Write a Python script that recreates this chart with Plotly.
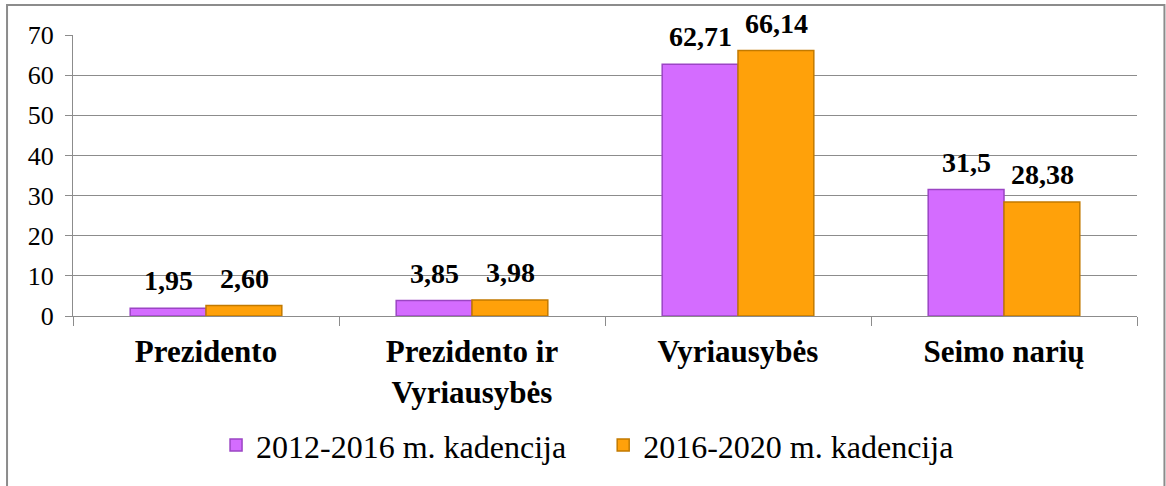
import plotly.graph_objects as go

categories = ["Prezidento", "Prezidento ir<br>Vyriausybės", "Vyriausybės", "Seimo narių"]
series_names = ["2012-2016 m. kadencija", "2016-2020 m. kadencija"]
values_2012 = [1.95, 3.85, 62.71, 31.5]
values_2016 = [2.60, 3.98, 66.14, 28.38]
labels_2012 = ["1,95", "3,85", "62,71", "31,5"]
labels_2016 = ["2,60", "3,98", "66,14", "28,38"]
y_ticks = [0, 10, 20, 30, 40, 50, 60, 70]

FONT = "Liberation Serif"
GRID = "#8c8c8c"
PAD = "\u00a0" * 4

fig = go.Figure()
fig.add_trace(go.Bar(
    x=categories, y=values_2012, name=series_names[0] + PAD,
    marker=dict(color="#D46CFF", line=dict(color="#9B45C4", width=1.5)),
))
fig.add_trace(go.Bar(
    x=categories, y=values_2016, name=series_names[1],
    marker=dict(color="#FFA10A", line=dict(color="#C27A00", width=1.5)),
))

annotations = []
for cat, v, t in zip(categories, values_2012, labels_2012):
    annotations.append(dict(x=cat, y=v, text=t, xref="x", yref="y", showarrow=False,
                            xshift=-38, yanchor="bottom", yshift=10,
                            font=dict(family=FONT, size=28, color="black", weight="bold")))
for cat, v, t in zip(categories, values_2016, labels_2016):
    annotations.append(dict(x=cat, y=v, text=t, xref="x", yref="y", showarrow=False,
                            xshift=38, yanchor="bottom", yshift=10,
                            font=dict(family=FONT, size=28, color="black", weight="bold")))

fig.update_layout(
    width=1166, height=486,
    margin=dict(l=73, r=29, t=35, b=170),
    paper_bgcolor="white", plot_bgcolor="white",
    barmode="group", bargap=0.43, bargroupgap=0,
    font=dict(family=FONT, color="black"),
    annotations=annotations,
    showlegend=True,
    legend=dict(orientation="h", x=0.4836, xanchor="center", y=-0.46, yanchor="middle",
                font=dict(family=FONT, size=32, color="black"),
                itemwidth=30, tracegroupgap=0),
    shapes=[dict(type="rect", xref="paper", yref="paper",
                 x0=-0.062, x1=1.0258, y0=-0.7, y1=1.107,
                 line=dict(color="#8c8c8c", width=2), fillcolor="rgba(0,0,0,0)", layer="below")],
)
fig.update_xaxes(
    showline=True, linecolor=GRID, linewidth=1,
    ticks="outside", tickson="boundaries", ticklen=9, tickcolor=GRID,
    showgrid=False,
    tickfont=dict(family=FONT, size=31, color="black", weight="bold"),
    ticklabelstandoff=8,
)
fig.update_yaxes(
    range=[0, 70], tickvals=y_ticks,
    showline=True, linecolor=GRID, linewidth=1,
    showgrid=True, gridcolor=GRID, gridwidth=1,
    ticks="outside", ticklen=7, tickcolor=GRID,
    zeroline=False,
    tickfont=dict(family=FONT, size=26, color="black"),
    ticklabelstandoff=6,
)

fig.write_html("out.html", config={"displayModeBar": False},
               post_script="document.body.style.margin='0';document.body.style.overflow='hidden';")
